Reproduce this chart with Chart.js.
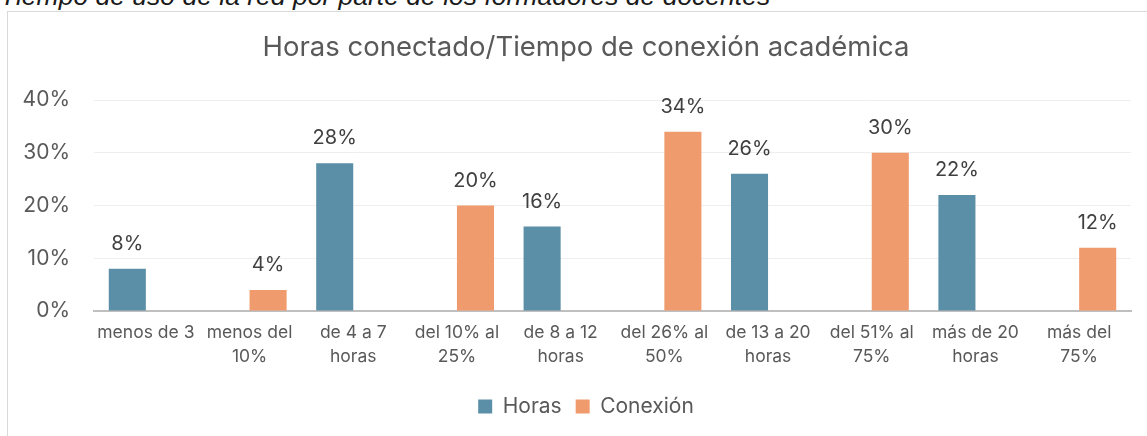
<!DOCTYPE html>
<html>
<head>
<meta charset="utf-8">
<script src="https://cdn.jsdelivr.net/npm/chart.js@4"></script>
<style>
  html, body { margin: 0; padding: 0; background: #fff; overflow: hidden; width: 1147px; height: 436px; }
  .caption { position: absolute; left: 0; top: -17px; font: italic 26.5px "Liberation Sans", Arial, sans-serif; line-height: 26px; color: #1a1a1a; white-space: nowrap; }
  .box { position: absolute; left: 7px; top: 11px; width: 1200px; height: 460px; border-left: 1px solid #d9d9d9; border-top: 1px solid #d9d9d9; }
  .wrap { position: absolute; left: 8px; top: 12px; width: 1156px; height: 424px; }
</style>
</head>
<body>
<div class="caption">Tiempo de uso de la red por parte de los formadores de docentes</div>
<div class="box"></div>
<div class="wrap"><canvas id="chart" width="1156" height="424"></canvas></div>
<script>
const categories = [
  'menos de 3', ['menos del', '10%'], ['de 4 a 7', 'horas'], ['del 10% al', '25%'], ['de 8 a 12', 'horas'],
  ['del 26% al', '50%'], ['de 13 a 20', 'horas'], ['del 51% al', '75%'], ['más de 20', 'horas'], ['más del', '75%']
]
// one value per category, the other series is empty there
const horas    = [8, null, 28, null, 16, null, 26, null, 22, null]
const conexion = [null, 4, null, 20, null, 34, null, 30, null, 12]
const yTicks = [0, 10, 20, 30, 40]

const fontFamily = 'Inter, "Open Sans", sans-serif'
const textColor = '#595959'

// draw the percentage over each bar
const barLabels = {
  id: 'barLabels',
  afterDatasetsDraw(chart) {
    const ctx = chart.ctx
    ctx.save()
    ctx.font = '20px ' + fontFamily
    ctx.fillStyle = '#404040'
    ctx.textAlign = 'center'
    ctx.textBaseline = 'middle'
    chart.data.datasets.forEach((ds, i) => {
      chart.getDatasetMeta(i).data.forEach((bar, j) => {
        if (ds.data[j] == null) return
        ctx.fillText(ds.data[j] + '%', bar.x, bar.y - 25)
      })
    })
    ctx.restore()
  }
}

const ctx = document.getElementById('chart').getContext('2d')
new Chart(ctx, {
  type: 'bar',
  data: {
    labels: categories,
    datasets: [{
      label: 'Horas',
      data: horas,
      backgroundColor: '#5B8FA7',
      categoryPercentage: 0.715,
      barPercentage: 1.0
    },
    {
      label: 'Conexión',
      data: conexion,
      backgroundColor: '#F09B6E',
      categoryPercentage: 0.715,
      barPercentage: 1.0
    }]
  },
  options: {
    responsive: false,
    animation: false,
    layout: { padding: { left: 0, right: 0, top: 0, bottom: 9 } },
    plugins: {
      title: {
        display: true,
        text: 'Horas conectado/Tiempo de conexión académica',
        color: textColor,
        font: { family: fontFamily, size: 27.5, weight: 'normal' },
        padding: { top: 19, bottom: 36 }
      },
      legend: {
        position: 'bottom',
        labels: {
          color: textColor,
          font: { family: fontFamily, size: 21 },
          boxWidth: 14,
          boxHeight: 14,
          padding: 14
        }
      },
      tooltip: { enabled: false }
    },
    scales: {
      x: {
        afterFit: scale => { scale.height = 71 },
        grid: { display: false, drawTicks: false },
        border: { color: '#bfbfbf', width: 2 },
        ticks: {
          color: textColor,
          font: { family: fontFamily, size: 17.5, lineHeight: 1.35 },
          padding: 10,
          maxRotation: 0,
          autoSkip: false
        }
      },
      y: {
        min: 0,
        max: 40,
        afterFit: scale => { scale.width = 86 },
        afterBuildTicks: scale => { scale.ticks = yTicks.map(v => ({ value: v })) },
        grid: { color: '#eeeeee', lineWidth: 1, drawTicks: false },
        border: { display: false },
        ticks: {
          color: textColor,
          font: { family: fontFamily, size: 21 },
          padding: 24,
          callback: v => v + '%'
        }
      },
      // empty strip on the right so the plot stops before the frame edge
      rightGap: {
        type: 'linear',
        position: 'right',
        afterFit: scale => { scale.width = 33 },
        grid: { display: false },
        border: { display: false },
        ticks: { display: false }
      }
    }
  },
  plugins: [barLabels]
})
</script>
</body>
</html>
